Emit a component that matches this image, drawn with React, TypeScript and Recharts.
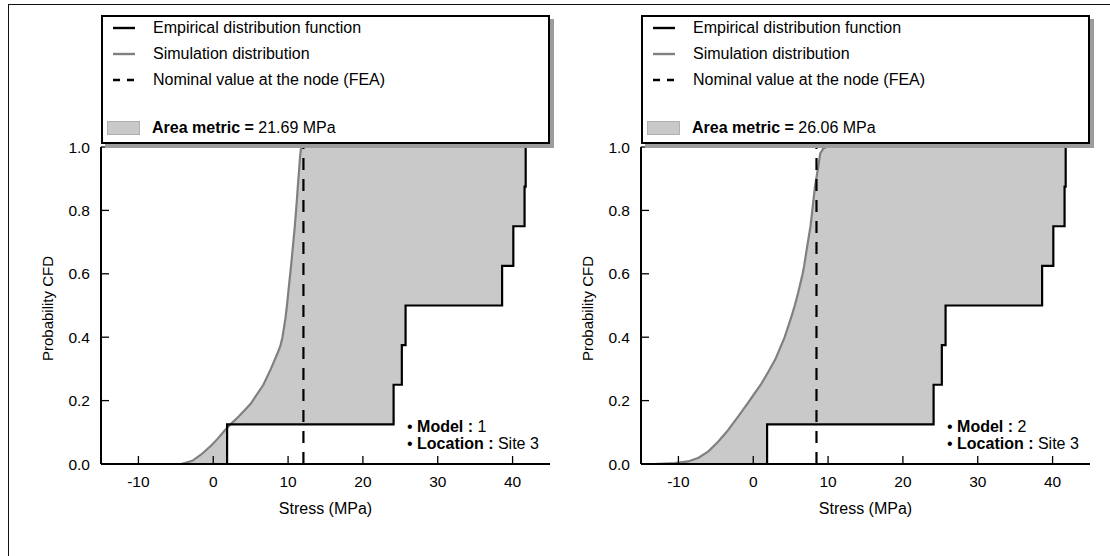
import {
  ComposedChart,
  Area,
  Line,
  XAxis,
  YAxis,
  ReferenceLine,
  Legend,
} from "recharts";

// Two area-metric panels: simulated CDF vs. empirical CDF of measured stress,
// with the FEA nominal value as a dashed vertical line.

const FONT = '"Liberation Sans", Arial, Helvetica, sans-serif';

// measured stresses (8 samples) -> empirical CDF, shared by both models
const EMP_STRESS = [1.85, 24.1, 25.2, 25.7, 38.6, 40.1, 41.6, 41.75];

// simulation CDF (probability -> stress, MPa)
const SIM1_PROB = [0, 0.01, 0.03, 0.06, 0.08, 0.105, 0.125, 0.15, 0.19, 0.25, 0.3, 0.35, 0.375, 0.4, 0.46, 0.5, 0.57, 0.625, 0.7, 0.75, 0.84, 0.875, 0.92, 0.97, 1.0];
const SIM1_STRESS = [-4.3, -2.8, -1.6, -0.2, 0.6, 1.5, 2.3, 3.4, 5.0, 6.7, 7.7, 8.6, 9.0, 9.25, 9.65, 9.85, 10.15, 10.4, 10.7, 10.9, 11.2, 11.3, 11.45, 11.6, 11.75];

const SIM2_PROB = [0, 0.003, 0.008, 0.02, 0.04, 0.07, 0.1, 0.125, 0.15, 0.19, 0.22, 0.25, 0.29, 0.33, 0.375, 0.4, 0.465, 0.5, 0.54, 0.6, 0.625, 0.7, 0.75, 0.78, 0.865, 0.875, 0.94, 0.98, 0.995, 1.0];
const SIM2_STRESS = [-13.3, -10.5, -8.7, -7.3, -6.0, -4.7, -3.6, -2.8, -2.0, -0.8, 0.1, 1.0, 2.0, 2.95, 3.75, 4.2, 5.1, 5.55, 6.0, 6.6, 6.8, 7.3, 7.65, 7.8, 8.2, 8.25, 8.7, 8.95, 9.35, 9.8];

const NOMINAL = [12.05, 8.45];
const AREA_METRIC = ["21.69", "26.06"];
const MODEL = ["1", "2"];
const LOCATION = "Site 3";

const X_TICKS = [-10, 0, 10, 20, 30, 40];
const Y_TICKS = [0, 0.2, 0.4, 0.6, 0.8, 1.0];

type Row = { p: number; sim: number; emp: number; band: [number, number] };

// Rows keyed by probability: simulated stress, empirical quantile and the band
// between them (the area metric). Step probabilities get two rows so the ECDF
// draws its horizontal treads.
function buildRows(probs: number[], stresses: number[]): Row[] {
  const n = EMP_STRESS.length;
  const rows: Row[] = [];
  probs.forEach((p, i) => {
    const s = stresses[i];
    const k = Math.round(p * n);
    const onStep = Math.abs(p * n - k) < 1e-9 && k > 0 && k < n;
    if (onStep) {
      rows.push({ p, sim: s, emp: EMP_STRESS[k - 1], band: [s, EMP_STRESS[k - 1]] });
      rows.push({ p, sim: s, emp: EMP_STRESS[k], band: [s, EMP_STRESS[k]] });
    } else {
      const idx = Math.min(n - 1, Math.max(0, Math.ceil(p * n - 1e-9) - 1));
      rows.push({ p, sim: s, emp: EMP_STRESS[idx], band: [s, EMP_STRESS[idx]] });
    }
  });
  return rows;
}

function Sample({ kind }: { kind: "emp" | "sim" | "nom" }) {
  return (
    <svg width={24} height={6} style={{ display: "block" }}>
      <line
        x1={1}
        x2={23}
        y1={3}
        y2={3}
        stroke={kind === "sim" ? "#808080" : "#000"}
        strokeWidth={2.4}
        strokeDasharray={kind === "nom" ? "7 7" : undefined}
      />
    </svg>
  );
}

function LegendBox({ area }: { area: string }) {
  const row = (top: number, children: React.ReactNode) => (
    <div style={{ position: "absolute", left: 0, top, height: 20, display: "flex", alignItems: "center", whiteSpace: "nowrap" }}>
      {children}
    </div>
  );
  return (
    <div
      style={{
        position: "relative",
        boxSizing: "border-box",
        width: 449,
        height: 129,
        border: "2px solid #000",
        background: "#fff",
        boxShadow: "4px 4px 0 #9c9c9c",
        fontFamily: FONT,
        fontSize: 16,
        color: "#000",
      }}
    >
      {row(1, <><span style={{ marginLeft: 9, width: 41 }}><Sample kind="emp" /></span><span>Empirical distribution function</span></>)}
      {row(27, <><span style={{ marginLeft: 9, width: 41 }}><Sample kind="sim" /></span><span>Simulation distribution</span></>)}
      {row(53, <><span style={{ marginLeft: 9, width: 41 }}><Sample kind="nom" /></span><span>Nominal value at the node (FEA)</span></>)}
      {row(101, (
        <>
          <span style={{ marginLeft: 4, marginRight: 12, width: 31, height: 12, background: "#c9c9c9", border: "1px solid #b0b0b0" }} />
          <span><b>Area metric =</b> {area} MPa</span>
        </>
      ))}
    </div>
  );
}

function Panel({ idx, probs, stresses, left }: { idx: number; probs: number[]; stresses: number[]; left: number }) {
  const rows = buildRows(probs, stresses);
  const tickStyle = { fill: "#000", fontSize: 15.5, fontFamily: FONT };
  return (
    <div style={{ position: "absolute", left, top: 0, width: 560, height: 556 }}>
      <ComposedChart
        layout="vertical"
        width={560}
        height={556}
        data={rows}
        margin={{ top: 147, right: 10, bottom: 32, left: 41 }}
      >
        <XAxis
          type="number"
          domain={[-15, 45]}
          ticks={X_TICKS}
          height={60}
          stroke="#000"
          axisLine={{ stroke: "#000", strokeWidth: 2 }}
          tickLine={{ stroke: "#000", strokeWidth: 1.3 }}
          tickSize={-8}
          tickMargin={20}
          tick={tickStyle}
          label={{
            content: (props: any) => {
              const vb = props.viewBox || {};
              return (
                <text x={vb.x + vb.width / 2} y={vb.y + 50} textAnchor="middle" fontSize={16} fontFamily={FONT} fill="#000">
                  Stress (MPa)
                </text>
              );
            },
          }}
        />
        <YAxis
          type="number"
          dataKey="p"
          domain={[0, 1]}
          ticks={Y_TICKS}
          reversed
          width={60}
          stroke="#000"
          axisLine={{ stroke: "#000", strokeWidth: 2 }}
          tickLine={{ stroke: "#000", strokeWidth: 1.3 }}
          tickSize={-8}
          tickMargin={19}
          tick={tickStyle}
          tickFormatter={(v: number) => v.toFixed(1)}
          label={{
            content: (props: any) => {
              const vb = props.viewBox || {};
              const cx = vb.x + 7;
              const cy = vb.y + vb.height / 2 + 3;
              return (
                <text x={cx} y={cy} dy={5} transform={`rotate(-90, ${cx}, ${cy})`} textAnchor="middle" fontSize={15} fontFamily={FONT} fill="#000">
                  Probability CFD
                </text>
              );
            },
          }}
        />
        <Legend
          layout="vertical"
          align="center"
          verticalAlign="middle"
          wrapperStyle={{ left: 101, top: 15, width: 449, height: 129 }}
          content={() => <LegendBox area={AREA_METRIC[idx]} />}
        />
        <Area dataKey="band" type="linear" fill="#c9c9c9" fillOpacity={1} stroke="none" isAnimationActive={false} />
        <ReferenceLine
          segment={[
            { x: stresses[stresses.length - 1], y: 1 },
            { x: EMP_STRESS[EMP_STRESS.length - 1], y: 1 },
          ]}
          stroke="#9a9a9a"
          strokeWidth={1.2}
        />
        <Line dataKey="sim" type="linear" stroke="#808080" strokeWidth={2.2} dot={false} isAnimationActive={false} />
        <Line dataKey="emp" type="linear" stroke="#000" strokeWidth={2.2} dot={false} isAnimationActive={false} />
        <ReferenceLine x={NOMINAL[idx]} stroke="#000" strokeWidth={2.2} strokeDasharray="12 9" />
      </ComposedChart>
      <div
        style={{
          position: "absolute",
          left: 407,
          top: 418,
          fontFamily: FONT,
          fontSize: 16,
          lineHeight: "17px",
          color: "#000",
          whiteSpace: "nowrap",
        }}
      >
        <div>• <b>Model :</b> {MODEL[idx]}</div>
        <div>• <b>Location :</b> {LOCATION}</div>
      </div>
    </div>
  );
}

export default function App() {
  return (
    <div style={{ position: "absolute", left: 0, top: 0, width: 1110, height: 556, background: "#fff", overflow: "hidden" }}>
      <div style={{ position: "absolute", left: 8, top: 4, width: 1110, height: 560, borderTop: "1.5px solid #111", borderLeft: "1.5px solid #111" }} />
      <Panel idx={0} probs={SIM1_PROB} stresses={SIM1_STRESS} left={0} />
      <Panel idx={1} probs={SIM2_PROB} stresses={SIM2_STRESS} left={540} />
    </div>
  );
}
